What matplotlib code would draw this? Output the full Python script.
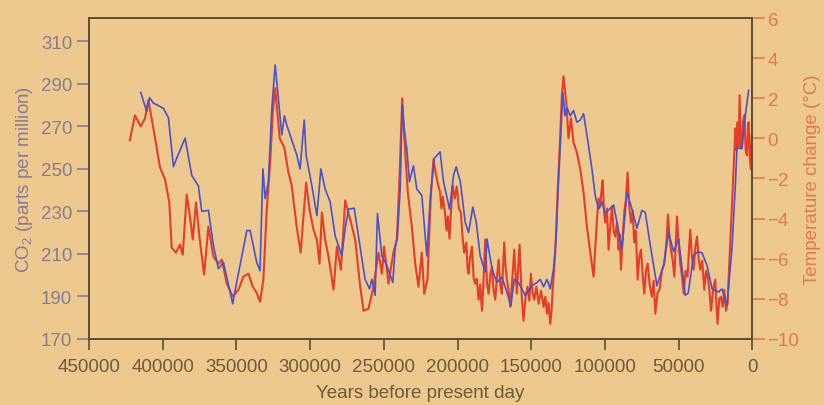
import matplotlib
matplotlib.use('Agg')
from matplotlib import pyplot as plt
import numpy as np

# ---- data (ages in thousands of years before present) ----
co2_age_kyr = [414.9, 410.8, 409.0, 406.3, 399.5, 396.1, 392.7, 390.5, 384.8, 380.3,
               375.8, 373.5, 369.0, 365.6, 362.2, 358.8, 352.5, 349.7, 342.9, 340.7,
               336.2, 334.0, 332.0, 330.5, 328.3, 326.0, 323.7, 321.5, 319.2, 317.4,
               315.8, 309.0, 306.8, 304.0, 302.7, 298.8, 295.4, 292.7, 289.8, 286.4,
               283.0, 278.5, 276.2, 274.0, 270.1, 267.2, 262.7, 259.7, 258.1, 255.9,
               254.3, 251.3, 247.9, 243.9, 242.3, 240.7, 238.9, 237.5, 236.2, 234.4,
               232.6, 229.9, 227.6, 224.2, 220.8, 218.5, 215.8, 211.8, 209.5, 205.4,
               202.7, 200.9, 198.1, 194.8, 192.5, 189.6, 187.3, 184.6, 181.2, 180.0,
               176.6, 173.3, 169.9, 166.5, 163.8, 161.5, 158.6, 154.1, 149.5, 146.1,
               143.9, 141.6, 139.3, 137.1, 134.8, 133.0, 131.5, 129.8, 128.5, 127.1,
               125.8, 123.5, 121.3, 119.0, 116.7, 114.5, 112.2, 108.8, 106.6, 104.3,
               102.0, 99.8, 94.1, 88.4, 85.0, 81.6, 78.3, 74.9, 72.6, 69.2,
               64.7, 60.2, 56.8, 53.4, 50.0, 45.5, 43.5, 39.8, 37.0, 34.1,
               30.7, 27.3, 22.9, 20.6, 17.2, 13.8, 11.5, 10.4, 7.0, 4.8, 2.5]
co2_ppm = [286, 277, 283.5, 281, 278.5, 274, 251, 255, 264.5, 247,
           242, 230, 230.5, 214, 203, 206, 186.5, 197, 221, 221,
           206, 202, 250, 236, 244, 278, 299, 283, 266, 275,
           270.5, 256.5, 250, 273, 256.5, 242, 228, 250, 240.5, 234.5,
           218.5, 209, 222, 231, 231.5, 218.5, 198, 193.5, 198, 190.5,
           229, 209, 204.5, 196.5, 212.5, 218.5, 240.5, 280, 269, 259.5,
           244, 251.5, 240.5, 237.5, 209, 236, 255, 258, 244, 231,
           247, 251, 244, 225, 220, 232, 225, 209, 201.5, 217,
           203, 196.5, 199, 192, 185.5, 198, 196.5, 190.5, 195, 196.5,
           198, 194.5, 198, 193.5, 203, 218.5, 244, 267.5, 286, 275,
           279, 275, 277.5, 272, 273, 276, 266, 250, 237.5, 231,
           234.5, 229, 233, 212.5, 239, 231, 222, 230.5, 229.5, 214,
           195, 204.5, 220, 211, 217, 190.5, 191.5, 209.5, 211, 210.5,
           204.5, 193.5, 192, 193.5, 185.7, 212.5, 242.5, 260, 259.5, 275, 287]

temp_age_kyr = [422.3, 418.8, 414.9, 412.0, 409.7, 406.3, 404.0, 401.8, 398.4, 395.5,
                393.9, 391.0, 388.3, 386.4, 383.7, 381.5, 379.6, 377.4, 375.1, 371.9,
                369.0, 365.6, 362.2, 359.9, 356.5, 352.4, 348.6, 345.3, 341.9, 338.9,
                336.6, 333.9, 331.7, 329.4, 327.1, 325.3, 323.7, 320.6, 317.5, 314.7,
                312.5, 309.1, 306.4, 304.1, 302.7, 300.4, 297.7, 295.4, 293.6, 292.0,
                289.8, 287.5, 284.1, 281.8, 279.1, 276.2, 272.8, 269.4, 266.0, 263.7,
                260.4, 257.0, 253.6, 251.3, 249.8, 246.8, 243.5, 241.2, 239.4, 237.5,
                235.5, 233.7, 231.0, 228.7, 226.5, 224.2, 222.6, 220.4, 218.1, 216.3,
                214.0,
                211.8, 210.9, 210.0, 208.4, 207.4, 206.5, 205.4, 204.2, 203.2, 201.8,
                200.5, 199.0, 197.7, 196.6, 195.5, 194.0, 193.2, 192.5, 191.3, 190.2,
                189.0, 188.0, 186.9, 185.7, 184.6, 183.4, 182.3, 181.2, 180.0, 178.9,
                177.7, 176.6, 175.5, 174.4, 173.2, 172.1, 171.0, 169.9, 169.1, 168.3,
                167.4, 166.5, 165.3, 164.2, 162.8, 161.5, 160.6, 159.7, 158.8, 157.9,
                156.5, 155.2, 153.8, 152.5, 151.3, 150.2, 149.0, 147.9, 146.5, 145.0,
                143.3, 141.6, 140.4, 139.3, 138.2, 137.1, 136.2, 135.3,
                133.7, 132.2, 130.3, 129.2, 128.1, 126.2, 124.7, 123.0, 121.3, 119.0,
                116.7, 114.5, 112.2, 109.9, 107.7,
                105.4, 104.3, 103.2, 102.3, 101.5, 100.6, 99.8, 98.6, 97.5, 96.3,
                95.2, 94.1, 93.0, 91.8, 90.7, 89.9, 89.1, 88.0, 86.9, 85.7,
                84.6, 83.5, 82.3, 81.2, 80.1, 79.0, 77.8, 76.6, 75.5, 74.4,
                73.3, 72.1, 71.0, 69.6, 68.1, 67.0, 65.8, 64.3, 62.9, 61.3,
                59.7, 58.4, 57.2, 56.2, 55.2, 54.0, 52.9, 52.0, 51.1, 50.0,
                48.9, 47.7, 46.6, 45.2, 43.9, 43.0, 42.1, 41.0, 39.8, 38.6,
                37.5, 36.4, 35.3, 34.0, 32.6, 31.4, 30.3, 29.1, 28.0, 26.5,
                25.1, 24.3, 23.6, 22.4, 21.3, 20.1, 19.0, 17.9, 16.8,
                14.9, 13.1, 11.5, 10.8, 10.0, 9.3, 8.6, 7.8, 7.0, 6.2,
                5.4, 4.5, 3.6, 3.0, 2.5, 1.7, 0.9, 0.4]
temp_change = [-0.1, 1.15, 0.6, 1.0, 1.9, 0.5, -0.5, -1.45, -2.05, -3.2,
               -5.45, -5.7, -5.3, -5.8, -2.8, -3.9, -5.05, -3.2, -4.9, -6.8,
               -4.4, -5.9, -6.25, -6.05, -7.25, -7.9, -7.55, -6.9, -6.75, -7.4,
               -7.65, -8.15, -7.05, -3.55, -1.2, 1.3, 2.5, 0.0, -0.45, -1.7,
               -2.35, -4.4, -5.7, -3.55, -2.2, -3.55, -4.55, -5.05, -6.25, -3.7,
               -5.05, -5.9, -7.55, -5.4, -6.55, -3.1, -4.05, -5.05, -7.4, -8.6,
               -8.5, -7.4, -5.7, -6.75, -5.4, -7.25, -5.7, -5.05, -2.05, 2.0,
               -0.7, -2.7, -4.4, -6.25, -7.4, -5.7, -7.75, -7.05, -2.85, -1.05,
               -2.05,
               -2.7, -3.5, -2.9, -3.8, -4.6, -3.9, -5.0, -3.4, -2.35, -3.0,
               -2.4, -3.5, -3.7, -4.9, -5.7, -5.2, -6.5, -6.75, -5.9, -5.4,
               -7.0, -7.25, -7.0, -8.05, -7.3, -8.6, -7.0, -5.05, -7.2, -7.75,
               -6.8, -6.4, -7.6, -8.05, -6.9, -6.05, -7.3, -7.75, -6.5, -5.2,
               -6.4, -7.05, -7.6, -8.4, -7.0, -5.55, -6.8, -7.75, -6.4, -5.3,
               -7.8, -9.1, -7.9, -7.4, -8.1, -6.75, -7.7, -8.05, -7.4, -8.25,
               -7.6, -8.4, -7.9, -8.75, -8.2, -9.25, -8.6, -7.4,
               -5.7, -2.85, 0.15, 2.15, 3.1, 1.8, 0.0, 1.0, -0.2, -0.7,
               -1.55, -2.7, -4.4, -5.7, -6.9,
               -4.05, -3.0, -3.4, -2.6, -2.1, -3.6, -4.2, -3.5, -5.55, -4.3,
               -3.4, -4.6, -4.9, -4.2, -5.55, -4.8, -6.55, -5.0, -3.7, -3.0,
               -1.7, -3.4, -4.2, -3.6, -5.2, -4.6, -7.05, -5.9, -5.55, -6.8,
               -7.75, -6.6, -6.25, -7.3, -7.9, -7.1, -8.75, -7.7, -7.55, -6.6,
               -6.25, -5.3, -3.8, -4.9, -5.55, -6.1, -6.9, -5.4, -3.9, -5.2,
               -6.25, -6.9, -7.75, -6.6, -6.9, -5.6, -4.55, -5.9, -6.55, -5.4,
               -4.9, -6.0, -6.55, -6.1, -7.55, -6.6, -6.9, -7.6, -8.6, -7.5,
               -7.05, -8.3, -9.25, -8.0, -7.9, -8.4, -7.55, -8.6, -8.25,
               -5.05, -2.2, 0.5, -0.6, 0.8, -0.4, 2.15, -0.5, -0.2, 0.9,
               1.15, -0.6, -0.85, 0.6, 0.8, -1.0, -1.55, 0.2]

co2_ticks = [170, 190, 210, 230, 250, 270, 290, 310]
temp_ticks = [-10, -8, -6, -4, -2, 0, 2, 4, 6]
year_ticks = [450000, 400000, 350000, 300000, 250000, 200000, 150000, 100000, 50000, 0]

bg = '#eec98f'
blue = '#4a52c9'
red = '#e63d2a'
co2_text = '#877c92'
temp_text = '#df7a4e'
dark = '#6a5c3a'
spine = '#5a4e2e'

plt.rcParams['font.family'] = ['Liberation Sans', 'DejaVu Sans']
plt.rcParams['mathtext.fontset'] = 'custom'
plt.rcParams['mathtext.rm'] = 'Liberation Sans'

fig = plt.figure(figsize=(8.24, 4.06), dpi=100, facecolor=bg)
ax = fig.add_axes([0.108, 0.163, 0.805, 0.79])
ax2 = ax.twinx()

# temperature (right axis) underneath, CO2 on top
ax2.plot(np.array(temp_age_kyr) * 1000, temp_change, color=red, lw=1.5)
ax.plot(np.array(co2_age_kyr) * 1000, co2_ppm, color=blue, lw=1.2)
ax.set_zorder(ax2.get_zorder() + 1)
ax.patch.set_visible(False)
ax2.patch.set_facecolor(bg)

ax.set_xlim(450000, 0)
ax.set_ylim(170, 321)
ax2.set_ylim(-10, 6)

ax.set_xticks(year_ticks)
ax.set_xticklabels([str(t) for t in year_ticks])
ax.set_yticks(co2_ticks)
ax2.set_yticks(temp_ticks)

for a in (ax, ax2):
    for s in a.spines.values():
        s.set_color(spine)
        s.set_linewidth(1.2)

ax.tick_params(axis='x', direction='out', length=8, width=1.2, color=spine,
               labelsize=13.5, labelcolor=dark, pad=6)
ax.tick_params(axis='y', direction='out', length=9, width=1.2, color=co2_text,
               labelsize=13.5, labelcolor=co2_text, pad=3)
ax2.tick_params(axis='y', direction='out', length=9, width=1.2, color=temp_text,
                labelsize=13.5, labelcolor=temp_text, pad=2)

ax.set_xlabel('Years before present day', fontsize=13.5, color=dark, labelpad=6)
ax.set_ylabel('CO$_\\mathrm{2}$ (parts per million)', fontsize=13.5, color=co2_text, labelpad=4)
ax2.set_ylabel('Temperature change (°C)', fontsize=13.5, color=temp_text, labelpad=3)

fig.savefig('out.png', dpi=100, facecolor=bg)
